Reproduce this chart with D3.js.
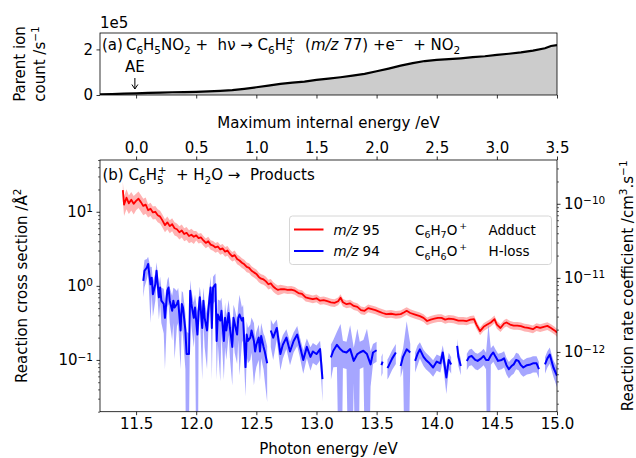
<!DOCTYPE html>
<html>
<head>
<meta charset="utf-8">
<script src="https://cdn.jsdelivr.net/npm/d3@7"></script>
<style>
  body { margin: 0; background: #fff; }
  text { font-family: "DejaVu Sans", sans-serif; white-space: pre; }
</style>
</head>
<body>
<svg id="fig" width="636" height="458"></svg>
<script>
// ---- data ----
// (a) parent ion count vs photon energy
var parentE = [11.2,11.3,11.4,11.5,11.6,11.7,11.8,11.9,12.0,12.1,12.2,12.3,12.4,12.5,12.6,12.7,12.8,12.9,13.0,13.1,
  13.2,13.3,13.4,13.5,13.6,13.7,13.8,13.9,14.0,14.1,14.2,14.3,14.4,14.5,14.6,14.7,14.8,14.9,14.95,15.0];
var parentC = [3000,4000,6000,7000,9000,10000,12000,13000,14000,16000,18000,21000,27000,34000,41000,49000,54000,59000,66000,72000,
  78000,85000,93000,104000,116000,129000,140000,149000,154000,157000,161000,166000,170000,176000,181000,187000,195000,205000,215000,219000];

// (b) m/z 95 adduct cross section (Å^2) and relative error
var redE = [11.39,11.40,11.42,11.44,11.46,11.48,11.50,11.52,11.54,11.56,11.58,11.60,11.62,11.64,11.66,11.68,11.70,11.72,11.74,11.76,
  11.78,11.80,11.82,11.84,11.86,11.88,11.90,11.92,11.94,11.96,11.98,12.00,12.02,12.04,12.06,12.08,12.10,12.12,12.14,12.16,
  12.18,12.20,12.22,12.24,12.26,12.28,12.30,12.32,12.34,12.36,12.38,12.40,12.42,12.44,12.46,12.48,12.50,12.52,12.54,12.56,
  12.58,12.60,12.62,12.64,12.66,12.68,12.70,12.73,12.76,12.79,12.82,12.85,12.88,12.91,12.94,12.97,13.00,13.03,13.06,13.09,
  13.12,13.15,13.18,13.20,13.22,13.25,13.28,13.31,13.34,13.37,13.40,13.43,13.46,13.49,13.52,13.55,13.58,13.62,13.66,13.70,
  13.73,13.75,13.78,13.82,13.86,13.89,13.92,13.95,13.98,14.01,14.04,14.07,14.10,14.14,14.18,14.22,14.25,14.28,14.31,14.33,
  14.36,14.39,14.42,14.45,14.48,14.50,14.53,14.56,14.58,14.61,14.64,14.67,14.70,14.73,14.76,14.80,14.83,14.86,14.89,14.92,
  14.95,14.98,15.00];
var redV = [19.6,12.5,15.5,13.0,14.5,12.8,14.0,15.0,13.5,12.0,12.5,10.5,11.0,9.8,10.0,9.0,8.6,7.6,6.6,7.2,
  6.4,6.8,6.0,5.8,5.3,5.6,5.0,5.2,4.7,4.9,4.6,4.8,4.4,4.5,4.1,3.8,4.0,3.6,3.5,3.3,
  3.4,3.1,3.2,2.9,3.0,2.7,2.5,2.6,2.3,2.2,2.05,1.95,1.8,1.75,1.6,1.52,1.45,1.32,1.25,1.22,
  1.15,1.05,1.08,0.98,0.92,0.88,0.9,0.9,0.88,0.89,0.86,0.8,0.78,0.7,0.68,0.66,0.68,0.63,0.64,0.62,
  0.6,0.59,0.62,0.69,0.6,0.565,0.58,0.535,0.52,0.47,0.46,0.5,0.485,0.47,0.45,0.43,0.415,0.42,0.41,0.415,
  0.44,0.46,0.43,0.41,0.39,0.37,0.335,0.35,0.36,0.37,0.37,0.35,0.36,0.355,0.34,0.34,0.335,0.35,0.355,0.3,
  0.245,0.28,0.3,0.32,0.355,0.3,0.27,0.31,0.32,0.3,0.29,0.29,0.285,0.275,0.27,0.26,0.28,0.27,0.28,0.288,
  0.27,0.25,0.234];
var redErr = [0.3,0.3,0.3,0.28,0.28,0.28,0.25,0.25,0.25,0.25,0.25,0.2,0.2,0.2,0.2,0.2,0.2,0.2,0.2,0.2,
  0.2,0.2,0.2,0.2,0.2,0.2,0.2,0.2,0.2,0.2,0.2,0.15,0.15,0.15,0.15,0.15,0.15,0.15,0.15,0.15,
  0.15,0.15,0.15,0.15,0.15,0.15,0.15,0.15,0.15,0.15,0.15,0.15,0.15,0.15,0.15,0.15,0.15,0.15,0.15,0.15,
  0.15,0.15,0.15,0.15,0.15,0.15,0.15,0.12,0.12,0.12,0.12,0.12,0.12,0.12,0.12,0.12,0.12,0.12,0.12,0.12,
  0.12,0.12,0.12,0.12,0.12,0.12,0.12,0.12,0.12,0.12,0.12,0.12,0.12,0.12,0.12,0.12,0.12,0.12,0.12,0.12,
  0.12,0.12,0.12,0.12,0.12,0.12,0.12,0.12,0.12,0.12,0.12,0.12,0.12,0.12,0.12,0.12,0.12,0.12,0.12,0.12,
  0.12,0.12,0.12,0.12,0.12,0.12,0.12,0.12,0.12,0.12,0.12,0.12,0.12,0.12,0.12,0.12,0.12,0.12,0.12,0.12,
  0.12,0.12,0.12];

// (b) m/z 94 H-loss cross section (Å^2), null = gap, and relative error
var blueE = [11.56,11.57,11.59,11.60,11.62,11.63,11.64,11.66,11.67,11.69,11.70,11.71,11.73,11.74,11.76,11.77,11.78,11.80,11.81,11.82,
  11.84,11.85,11.87,11.88,11.89,11.91,11.92,11.94,11.95,11.96,11.98,11.99,12.01,12.02,12.03,12.05,12.06,12.07,12.09,12.10,
  12.12,12.13,12.14,12.16,12.17,12.18,12.20,12.21,12.23,12.24,12.25,12.27,12.28,12.30,12.31,12.32,12.34,12.35,12.36,12.38,
  12.39,12.41,12.42,12.43,12.45,12.46,12.48,12.49,12.50,12.52,12.53,12.54,12.56,12.57,12.59,12.60,12.62,12.64,12.67,12.70,
  12.72,12.75,12.78,12.81,12.84,12.86,12.89,12.92,12.95,12.97,13.00,13.03,13.05,13.08,13.12,13.14,13.17,13.20,13.22,13.25,
  13.28,13.31,13.34,13.36,13.39,13.42,13.45,13.47,13.50,13.52,13.54,13.55,13.57,13.59,13.60,13.63,13.66,13.68,13.70,13.72,
  13.75,13.78,13.80,13.82,13.84,13.86,13.89,13.91,13.94,13.97,14.00,14.03,14.05,14.08,14.10,14.12,14.14,14.17,14.18,14.20,
  14.22,14.25,14.27,14.29,14.32,14.34,14.37,14.39,14.41,14.43,14.45,14.47,14.49,14.51,14.54,14.56,14.58,14.60,14.62,14.64,
  14.66,14.68,14.70,14.72,14.75,14.78,14.80,14.83,14.85,14.87,14.90,14.92,14.94,14.96,14.97,15.00];
var blueV = [1.17,1.6,1.77,1.97,1.05,1.29,0.77,1.05,1.6,0.7,0.95,0.63,0.57,0.37,0.86,0.95,0.63,0.46,0.63,0.51,
  0.57,0.63,0.25,0.57,0.51,0.25,0.12,0.12,0.86,0.57,0.37,0.51,0.22,0.46,0.7,0.27,0.63,0.37,0.25,0.46,
  0.95,0.27,0.95,1.05,0.18,0.41,0.34,0.46,0.18,0.37,0.25,0.43,0.27,0.15,0.37,0.31,0.22,0.37,0.41,0.34,
  0.37,0.08,0.22,0.18,0.2,0.25,0.18,0.13,0.16,0.2,0.13,0.21,0.15,0.13,0.09,null,0.25,0.2,0.27,0.12,
  0.16,0.2,0.13,0.18,0.22,0.16,0.1,0.15,0.11,0.13,0.12,0.14,0.055,null,0.108,0.133,0.16,0.139,0.13,0.126,
  0.14,0.097,0.12,0.126,0.133,0.12,0.087,0.126,0.135,null,0.085,0.095,null,0.078,0.083,0.105,0.126,null,0.083,0.11,
  0.139,0.126,null,0.097,0.12,0.139,0.11,0.1,0.09,0.079,0.095,0.09,0.126,0.058,0.1,0.087,null,0.155,0.11,0.083,
  null,0.097,0.11,0.113,0.1,0.097,0.105,0.113,0.1,0.1,0.115,0.126,0.11,0.097,0.1,0.105,0.085,0.075,0.082,0.087,
  0.1,0.097,0.085,0.079,0.085,0.087,0.09,0.09,0.075,null,0.087,0.105,0.118,0.09,0.079,0.061];
var blueErr = [0.4,0.4,0.3,0.25,0.7,0.4,0.5,0.4,0.3,0.5,0.4,0.5,0.6,0.8,0.4,0.4,0.5,0.6,0.5,0.8,
  0.5,0.5,0.7,0.5,0.6,0.7,1.0,0.9,0.4,0.5,0.6,0.5,1.0,0.5,0.4,0.8,0.5,0.6,0.7,0.5,
  0.4,0.8,0.4,0.4,0.7,0.6,0.85,0.5,0.7,0.6,0.6,0.5,0.6,0.7,0.5,0.6,0.6,0.5,0.85,0.5,
  0.5,0.6,0.5,0.5,0.5,0.5,0.75,0.5,0.5,0.5,0.6,0.5,0.5,0.6,0.7,null,0.4,0.5,0.3,0.4,
  0.35,0.3,0.35,0.3,0.3,0.3,0.35,0.3,0.35,0.3,0.3,0.3,0.5,null,0.5,0.4,0.5,1.2,0.4,0.4,
  1.1,0.5,1.2,0.4,0.4,1.2,0.5,0.3,0.3,null,0.3,0.3,null,0.3,0.3,0.3,0.3,null,0.3,0.3,
  1.4,0.3,null,0.3,0.3,0.25,0.25,0.25,0.25,0.25,0.25,0.25,0.25,0.4,0.25,0.25,null,0.25,0.25,0.25,
  null,0.25,0.25,0.25,0.25,0.25,0.25,0.25,0.25,2.0,0.25,0.25,0.25,0.25,0.25,0.25,0.25,0.25,0.25,0.25,
  0.25,0.25,0.25,0.25,0.25,0.25,0.25,0.25,0.25,null,0.25,0.25,0.25,0.25,0.25,0.3];

var photonTicks = [11.5,12.0,12.5,13.0,13.5,14.0,14.5,15.0];
var internalTicks = [0.0,0.5,1.0,1.5,2.0,2.5,3.0,3.5];
var parentTicks = [0, 200000];
var csTicks = [[0.1,"10","−1"],[1,"10","0"],[10,"10","1"]];
var kTicks = [[1e-12,"10","−12"],[1e-11,"10","−11"],[1e-10,"10","−10"]];
var kFactor = 7.8e-12; // cm^3 s^-1 per Å^2 (right axis)

// ---- layout ----
var svg = d3.select("#fig");
var X0 = 100, X1 = 557;
var T0 = 33, T1 = 95;
var B0 = 160, B1 = 411.7;
var FS = 15;

var x = d3.scaleLinear().domain([11.2, 15.0]).range([X0, X1]);
var xi = d3.scaleLinear().domain([-0.3, 3.5]).range([X0, X1]);
var yP = d3.scaleLinear().domain([0, 272000]).range([T1, T0]);
var yL = d3.scaleLog().domain([0.02, 50]).range([B1, B0]);
var yR = d3.scaleLog().domain([0.02 * kFactor, 50 * kFactor]).range([B1, B0]);

var defs = svg.append("defs");
defs.append("clipPath").attr("id", "clipA").append("rect")
  .attr("x", X0).attr("y", T0).attr("width", X1 - X0).attr("height", T1 - T0);
defs.append("clipPath").attr("id", "clipB").append("rect")
  .attr("x", X0).attr("y", B0).attr("width", X1 - X0).attr("height", B1 - B0);

// rich text helper: parts = [text, kind, dx] with kind "" | "b"(sub) | "p"(sup) | "i"(italic)
function rich(g, px, py, parts, size) {
  var t = g.append("text").attr("x", px).attr("y", py).attr("font-size", size);
  var off = 0;
  parts.forEach(function (p) {
    var k = p[1] || "";
    var target = k === "b" ? 0.28 * size : (k === "p" ? -0.42 * size : 0);
    var ts = t.append("tspan").attr("dy", target - off).text(p[0]);
    off = target;
    if (k === "b" || k === "p") ts.attr("font-size", size * 0.7);
    if (k === "i") ts.attr("font-style", "italic");
    if (p[2]) ts.attr("dx", p[2]);
  });
  return t;
}

function styleAxis(g) {
  g.attr("font-size", FS).attr("font-family", "DejaVu Sans");
  g.select(".domain").remove();
  g.selectAll(".tick line").attr("stroke-width", 0.8);
}

function powLabels(g, list) {
  g.selectAll(".tick text").each(function (d) {
    var row = list.find(function (r) { return Math.abs(Math.log10(r[0]) - Math.log10(d)) < 1e-6; });
    var t = d3.select(this).text(null);
    t.append("tspan").text(row[1]);
    t.append("tspan").attr("dy", "-0.45em").attr("font-size", FS * 0.7).text(row[2]);
  });
}

function minorTicks(dom) {
  var out = [];
  var lo = Math.floor(Math.log10(dom[0])), hi = Math.ceil(Math.log10(dom[1]));
  for (var e = lo; e <= hi; e++) {
    for (var m = 2; m <= 9; m++) {
      var v = m * Math.pow(10, e);
      if (v >= dom[0] && v <= dom[1]) out.push(v);
    }
  }
  return out;
}

// ---- panel (a) ----
var pa = svg.append("g");
var parent = parentE.map(function (e, i) { return { e: e, c: parentC[i] }; });
var gA = pa.append("g").attr("clip-path", "url(#clipA)");
gA.append("path").datum(parent)
  .attr("fill", "#cccccc")
  .attr("d", d3.area().x(function (d) { return x(d.e); }).y0(yP(0)).y1(function (d) { return yP(d.c); }));
gA.append("path").datum(parent)
  .attr("fill", "none").attr("stroke", "#000").attr("stroke-width", 2.2)
  .attr("d", d3.line().x(function (d) { return x(d.e); }).y(function (d) { return yP(d.c); }));

pa.append("g").attr("transform", "translate(0," + T1 + ")")
  .call(d3.axisBottom(x).tickValues(photonTicks).tickSize(3.5).tickFormat(""))
  .call(styleAxis);
pa.append("g").attr("transform", "translate(" + X0 + ",0)")
  .call(d3.axisLeft(yP).tickValues(parentTicks).tickSize(3.5).tickPadding(3.5).tickFormat(function (d) { return d / 1e5; }))
  .call(styleAxis);
pa.append("rect").attr("x", X0).attr("y", T0).attr("width", X1 - X0).attr("height", T1 - T0)
  .attr("fill", "none").attr("stroke", "#000").attr("stroke-width", 0.8);
pa.append("text").attr("x", X0).attr("y", 28).attr("font-size", FS).text("1e5");

rich(pa, 102, 50, [["(a)\u2009C"], ["6", "b"], ["H"], ["5", "b"], ["NO"], ["2", "b"], [" +  hν → C"], ["6", "b"], ["H"], ["5", "b"],
  ["+", "p", -6], ["  ("], ["m/z", "i"], [" 77) +e"], ["−", "p"], ["  + NO"], ["2", "b"]], FS);

pa.append("text").attr("x", x(11.49)).attr("y", 72).attr("text-anchor", "middle").attr("font-size", FS).text("AE");
pa.append("path").attr("fill", "none").attr("stroke", "#000").attr("stroke-width", 1)
  .attr("d", "M" + x(11.49) + ",78V89M" + (x(11.49) - 3) + ",84.5L" + x(11.49) + ",89L" + (x(11.49) + 3) + ",84.5");

var la = pa.append("g").attr("transform", "rotate(-90)");
la.append("text").attr("x", -(T0 + T1) / 2).attr("y", 25).attr("text-anchor", "middle").attr("font-size", FS).text("Parent ion");
rich(la, -(T0 + T1) / 2, 45, [["count /s"], ["−1", "p"]], FS).attr("text-anchor", "middle");

// ---- panel (b) ----
var pb = svg.append("g");
var red = redE.map(function (e, i) { return { e: e, v: redV[i], r: redErr[i] }; });
var blue = blueE.map(function (e, i) { return { e: e, v: blueV[i], r: blueErr[i] }; });
function lower(d) { var lo = d.v * (1 - d.r); return yL(lo > 0 ? lo : 1e-4); }
function upper(d) { return yL(d.v * (1 + d.r)); }
var band = d3.area().defined(function (d) { return d.v != null; })
  .x(function (d) { return x(d.e); }).y0(lower).y1(upper);
var ln = d3.line().defined(function (d) { return d.v != null; })
  .x(function (d) { return x(d.e); }).y(function (d) { return yL(d.v); });

var gB = pb.append("g").attr("clip-path", "url(#clipB)");
gB.append("path").datum(red).attr("fill", "#ff0000").attr("fill-opacity", 0.3).attr("d", band);
gB.append("path").datum(blue).attr("fill", "#0000ff").attr("fill-opacity", 0.35).attr("d", band);
gB.append("path").datum(red).attr("fill", "none").attr("stroke", "#ff0000").attr("stroke-width", 1.8)
  .attr("stroke-linejoin", "round").attr("d", ln);
gB.append("path").datum(blue).attr("fill", "none").attr("stroke", "#0000ff").attr("stroke-width", 2)
  .attr("stroke-linejoin", "round").attr("d", ln);

// axes
pb.append("g").attr("transform", "translate(0," + B1 + ")")
  .call(d3.axisBottom(x).tickValues(photonTicks).tickSize(3.5).tickPadding(3.5).tickFormat(d3.format(".1f")))
  .call(styleAxis);
pb.append("g").attr("transform", "translate(0," + B0 + ")")
  .call(d3.axisTop(xi).tickValues(internalTicks).tickSize(3.5).tickPadding(3.5).tickFormat(d3.format(".1f")))
  .call(styleAxis);
pb.append("g").attr("transform", "translate(" + X0 + ",0)")
  .call(d3.axisLeft(yL).tickValues(minorTicks(yL.domain())).tickSize(2).tickFormat(""))
  .call(styleAxis).selectAll(".tick line").attr("stroke-width", 0.6);
pb.append("g").attr("transform", "translate(" + X0 + ",0)")
  .call(d3.axisLeft(yL).tickValues(csTicks.map(function (r) { return r[0]; })).tickSize(3.5).tickPadding(3.5))
  .call(styleAxis).call(powLabels, csTicks);
pb.append("g").attr("transform", "translate(" + X1 + ",0)")
  .call(d3.axisRight(yR).tickValues(minorTicks(yR.domain())).tickSize(2).tickFormat(""))
  .call(styleAxis).selectAll(".tick line").attr("stroke-width", 0.6);
pb.append("g").attr("transform", "translate(" + X1 + ",0)")
  .call(d3.axisRight(yR).tickValues(kTicks.map(function (r) { return r[0]; })).tickSize(3.5).tickPadding(3.5))
  .call(styleAxis).call(powLabels, kTicks);
pb.append("rect").attr("x", X0).attr("y", B0).attr("width", X1 - X0).attr("height", B1 - B0)
  .attr("fill", "none").attr("stroke", "#000").attr("stroke-width", 0.8);

rich(pb, 102.5, 180, [["(b) C"], ["6", "b"], ["H"], ["5", "b"], ["+", "p", -6], ["  + H"], ["2", "b"], ["O →  Products"]], FS);

// axis titles
pb.append("text").attr("x", (X0 + X1) / 2).attr("y", 128).attr("text-anchor", "middle").attr("font-size", FS)
  .text("Maximum internal energy /eV");
pb.append("text").attr("x", (X0 + X1) / 2).attr("y", 454).attr("text-anchor", "middle").attr("font-size", FS)
  .text("Photon energy /eV");
var lb = pb.append("g").attr("transform", "rotate(-90)");
rich(lb, -(B0 + B1) / 2, 27, [["Reaction cross section /Å"], ["2", "p"]], FS).attr("text-anchor", "middle");
rich(lb, -(B0 + B1) / 2, 633, [["Reaction rate coefficient /cm"], ["3", "p"], [".s"], ["−1", "p"]], FS).attr("text-anchor", "middle");

// legend
var lg = pb.append("g");
lg.append("rect").attr("x", 289.5).attr("y", 216).attr("width", 262).attr("height", 48.5).attr("rx", 3)
  .attr("fill", "#fff").attr("fill-opacity", 0.8).attr("stroke", "#cccccc").attr("stroke-width", 0.8);
var legRows = [
  { color: "#ff0000", mz: " 95", ion: [["C"], ["6", "b"], ["H"], ["7", "b"], ["O"], ["+", "p", 2]], kind: "Adduct", y: 229.5 },
  { color: "#0000ff", mz: " 94", ion: [["C"], ["6", "b"], ["H"], ["6", "b"], ["O"], ["+", "p", 2]], kind: "H-loss", y: 251 }
];
var LFS = 13.5;
legRows.forEach(function (r) {
  lg.append("line").attr("x1", 294).attr("x2", 323.5).attr("y1", r.y).attr("y2", r.y)
    .attr("stroke", r.color).attr("stroke-width", 2);
  rich(lg, 333.5, r.y + 5, [["m/z", "i"], [r.mz]], LFS);
  rich(lg, 415, r.y + 5, r.ion, LFS);
  lg.append("text").attr("x", 488.5).attr("y", r.y + 5).attr("font-size", LFS).text(r.kind);
});
</script>
</body>
</html>
